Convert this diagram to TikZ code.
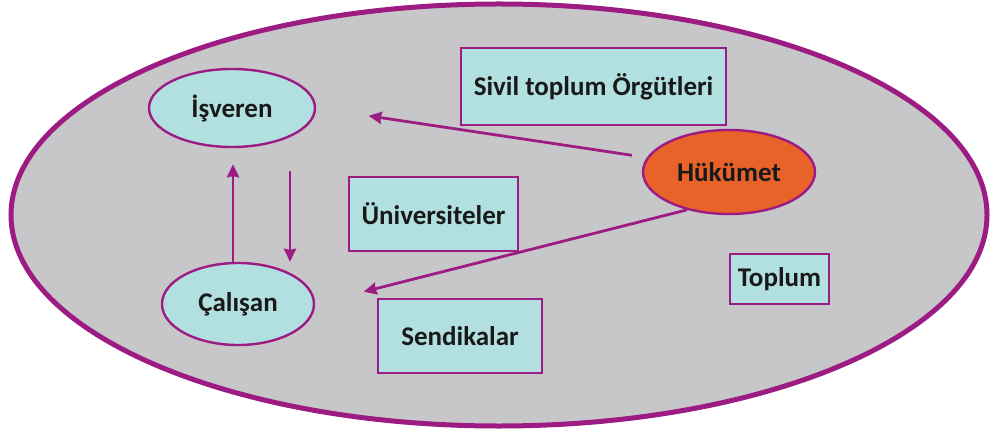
\documentclass[tikz,border=0pt]{standalone}
\usepackage{fontspec}
\setmainfont{Carlito}
\usetikzlibrary{shapes.geometric,arrows.meta,calc}
\definecolor{rim}{RGB}{156,28,132}
\definecolor{field}{RGB}{199,199,201}
\definecolor{boxfill}{RGB}{178,224,224}
\definecolor{govfill}{RGB}{232,98,42}
\definecolor{ink}{RGB}{25,25,25}
\tikzset{
  lbl/.style={font=\fontsize{27}{30}\selectfont\bfseries, text=ink, inner sep=0pt},
  oval/.style={lbl, ellipse, draw=rim, line width=2.4pt, fill=boxfill},
  card/.style={lbl, rectangle, draw=rim, line width=2.8pt, fill=boxfill},
  arr/.style={draw=rim, line width=2.8pt, -{Stealth[length=13pt,width=12pt,inset=1pt]}}
}
\begin{document}
\begin{tikzpicture}[x=1pt,y=-1pt]
\useasboundingbox (0,0) rectangle (992,438);
\fill[white] (0,0) rectangle (992,438);
\node[ellipse, draw=rim, line width=5pt, fill=field, minimum width=976pt, minimum height=422pt, inner sep=0pt] (soc) at (499,215) {};
\node[oval, minimum width=166pt, minimum height=78pt] (isv) at (232,108) {İşveren};
\node[oval, minimum width=152pt, minimum height=82pt] (cal) at (238,304) {Çalışan};
\node[oval, fill=govfill, minimum width=172pt, minimum height=84pt] (hk) at (729,172) {Hükümet};
\node[card, minimum width=265pt, minimum height=77pt] (siv) at (593.5,86.5) {Sivil toplum Örgütleri};
\node[card, minimum width=169pt, minimum height=74pt] (uni) at (433.5,214) {Üniversiteler};
\node[card, minimum width=164pt, minimum height=74pt] (sen) at (460,336) {Sendikalar};
\node[card, minimum width=99pt, minimum height=50pt] (top) at (779.5,279) {Toplum};
\coordinate (ux) at (233,0);
\coordinate (dx) at (290,0);
\draw[arr, shorten >=16pt] (cal.north -| ux) -- (isv.south -| ux);
\draw[arr, shorten <=23pt] (isv.south -| dx) -- (cal.north -| dx);
\draw[arr, shorten <=15pt, shorten >=53pt] (hk.170) -- (isv.east);
\draw[arr, shorten >=50pt] (hk.222) -- (cal.east);
\end{tikzpicture}
\end{document}
